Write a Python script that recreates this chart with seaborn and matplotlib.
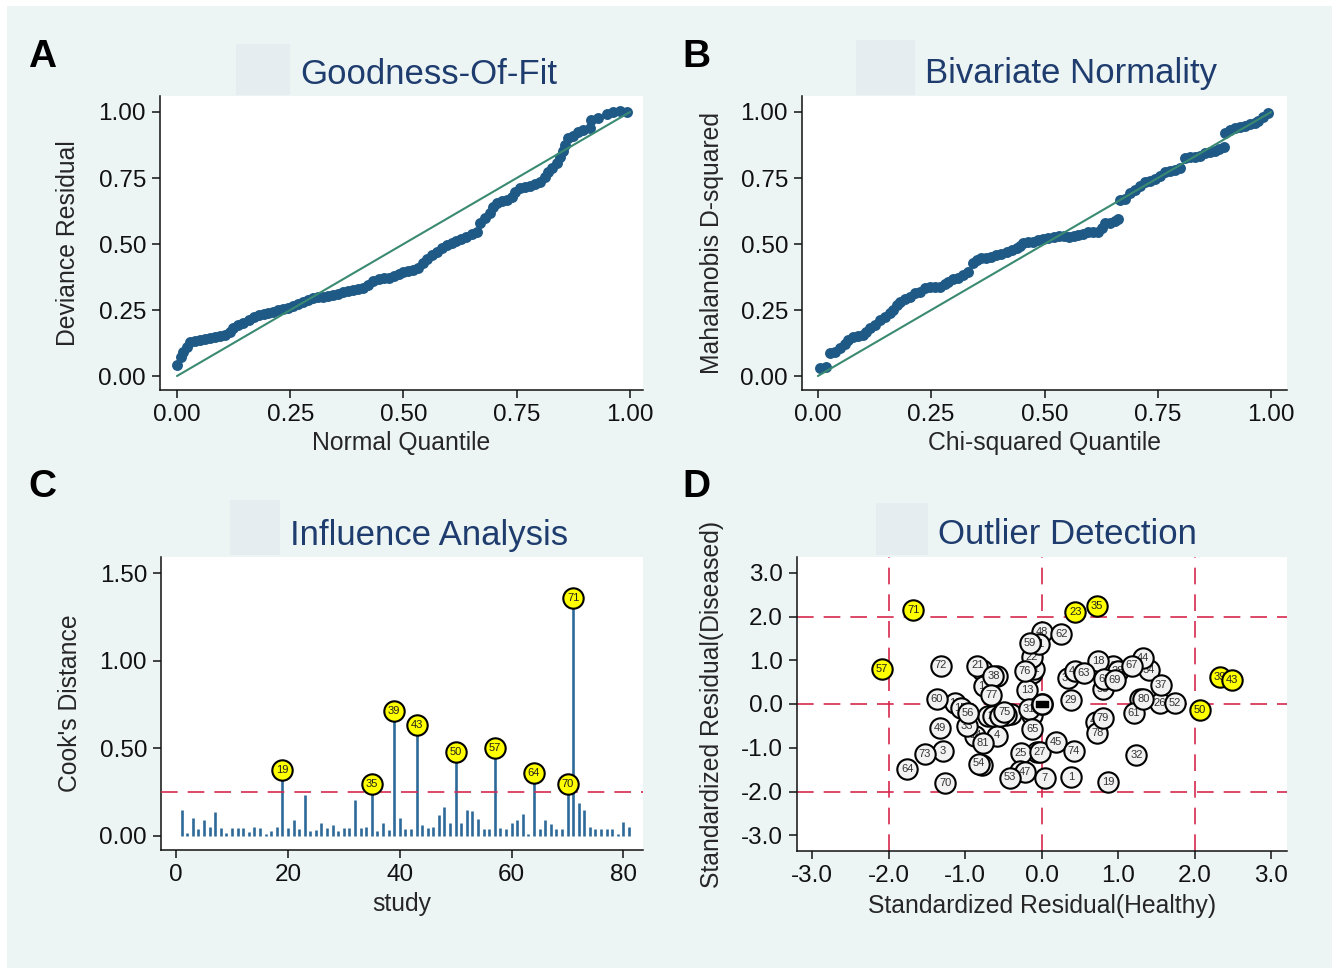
import matplotlib
matplotlib.use("Agg")
import matplotlib.pyplot as plt
import seaborn as sns
from matplotlib.patches import Rectangle
from matplotlib.path import Path

# ---------------- DATA ----------------
# Panel A: Goodness-of-fit (normal quantile vs deviance residual)
gof_quantile = [0.001, 0.008, 0.014, 0.021, 0.029, 0.040, 0.051, 0.062, 0.073, 0.084,
                0.095, 0.106, 0.117, 0.124, 0.135, 0.146, 0.158, 0.169, 0.180, 0.191,
                0.202, 0.213, 0.224, 0.235, 0.246, 0.257, 0.268, 0.279, 0.290, 0.301,
                0.312, 0.323, 0.334, 0.345, 0.356, 0.367, 0.378, 0.389, 0.400, 0.411,
                0.422, 0.433, 0.445, 0.456, 0.467, 0.478, 0.489, 0.500, 0.511, 0.522,
                0.533, 0.544, 0.551, 0.562, 0.573, 0.584, 0.595, 0.606, 0.617, 0.628,
                0.639, 0.651, 0.662, 0.669, 0.680, 0.691, 0.698, 0.706, 0.717, 0.728,
                0.739, 0.746, 0.757, 0.768, 0.779, 0.790, 0.801, 0.812, 0.820, 0.827,
                0.838, 0.846, 0.853, 0.857, 0.864, 0.875, 0.886, 0.897, 0.912, 0.915,
                0.930, 0.949, 0.963, 0.978, 0.993]
gof_residual = [0.042, 0.073, 0.090, 0.111, 0.128, 0.133, 0.136, 0.140, 0.144, 0.147,
                0.150, 0.155, 0.165, 0.183, 0.193, 0.202, 0.211, 0.224, 0.231, 0.235,
                0.237, 0.244, 0.249, 0.253, 0.259, 0.264, 0.272, 0.279, 0.287, 0.294,
                0.298, 0.301, 0.303, 0.307, 0.311, 0.317, 0.322, 0.326, 0.330, 0.335,
                0.345, 0.361, 0.367, 0.370, 0.373, 0.378, 0.385, 0.393, 0.399, 0.403,
                0.410, 0.427, 0.443, 0.458, 0.471, 0.486, 0.496, 0.503, 0.511, 0.519,
                0.528, 0.537, 0.547, 0.578, 0.597, 0.616, 0.641, 0.654, 0.663, 0.665,
                0.679, 0.698, 0.711, 0.716, 0.720, 0.726, 0.736, 0.755, 0.772, 0.787,
                0.806, 0.831, 0.852, 0.875, 0.903, 0.910, 0.923, 0.932, 0.938, 0.970,
                0.979, 0.991, 0.999, 1.004, 1.001]

# Panel B: Bivariate normality (chi-squared quantile vs Mahalanobis D-squared)
bvn_quantile = [0.004, 0.019, 0.027, 0.038, 0.049, 0.060, 0.067, 0.078, 0.089, 0.100,
                0.107, 0.115, 0.126, 0.137, 0.148, 0.159, 0.166, 0.174, 0.181, 0.192,
                0.203, 0.214, 0.225, 0.236, 0.247, 0.258, 0.269, 0.280, 0.288, 0.299,
                0.310, 0.321, 0.332, 0.343, 0.350, 0.361, 0.372, 0.383, 0.394, 0.405,
                0.417, 0.428, 0.439, 0.446, 0.453, 0.464, 0.475, 0.486, 0.497, 0.508,
                0.520, 0.531, 0.542, 0.553, 0.564, 0.575, 0.586, 0.597, 0.608, 0.619,
                0.626, 0.634, 0.645, 0.656, 0.663, 0.667, 0.678, 0.689, 0.700, 0.711,
                0.722, 0.733, 0.744, 0.755, 0.766, 0.777, 0.788, 0.799, 0.810, 0.821,
                0.832, 0.843, 0.854, 0.865, 0.876, 0.884, 0.895, 0.899, 0.910, 0.921,
                0.932, 0.943, 0.954, 0.965, 0.972, 0.983, 0.994]
bvn_dsq = [0.029, 0.035, 0.088, 0.092, 0.105, 0.120, 0.136, 0.149, 0.153, 0.155,
           0.165, 0.181, 0.193, 0.212, 0.225, 0.237, 0.250, 0.269, 0.282, 0.292,
           0.301, 0.313, 0.319, 0.332, 0.336, 0.338, 0.338, 0.347, 0.357, 0.366,
           0.373, 0.383, 0.395, 0.427, 0.439, 0.446, 0.448, 0.452, 0.458, 0.462,
           0.471, 0.477, 0.484, 0.494, 0.505, 0.509, 0.509, 0.514, 0.519, 0.524,
           0.528, 0.530, 0.530, 0.528, 0.530, 0.534, 0.537, 0.547, 0.547, 0.547,
           0.562, 0.578, 0.578, 0.587, 0.593, 0.667, 0.671, 0.692, 0.705, 0.721,
           0.734, 0.739, 0.745, 0.758, 0.772, 0.777, 0.780, 0.789, 0.825, 0.828,
           0.828, 0.835, 0.846, 0.850, 0.852, 0.860, 0.869, 0.919, 0.932, 0.938,
           0.942, 0.947, 0.953, 0.957, 0.967, 0.982, 0.995]

ref_line = [0.0, 1.0]

# Panel C: Influence analysis (Cook's distance by study)
study = list(range(1, 82))
cooks = [0.149, 0.019, 0.105, 0.038, 0.090, 0.053, 0.137, 0.048, 0.019, 0.048,
         0.048, 0.048, 0.025, 0.053, 0.048, 0.013, 0.029, 0.053, 0.377, 0.044,
         0.090, 0.038, 0.232, 0.029, 0.034, 0.076, 0.048, 0.063, 0.029, 0.044,
         0.044, 0.206, 0.048, 0.053, 0.299, 0.029, 0.076, 0.032, 0.714, 0.101,
         0.038, 0.042, 0.632, 0.061, 0.048, 0.053, 0.118, 0.166, 0.076, 0.480,
         0.076, 0.149, 0.143, 0.095, 0.038, 0.038, 0.501, 0.048, 0.038, 0.076,
         0.090, 0.128, 0.013, 0.358, 0.038, 0.090, 0.067, 0.042, 0.038, 0.299,
         1.362, 0.187, 0.147, 0.051, 0.038, 0.038, 0.038, 0.038, 0.010, 0.080,
         0.051]
cook_cutoff = 0.25
influential = [19, 35, 39, 43, 50, 57, 64, 70, 71]

# Panel D: Outlier detection (standardized residuals)
out_label = list(range(1, 82))
resid_healthy = [0.39, -0.12, -1.29, -0.58, -0.70, 0.93, 0.04, -0.78, -0.13, -1.13,
                 -0.10, -0.75, -0.19, -0.87, -1.06, -0.59, -0.06, 0.74, 0.87, -0.63,
                 -0.84, -0.13, 0.44, -0.40, -0.27, 1.55, -0.02, 1.00, 0.38, 1.29,
                 -0.17, 1.24, -0.98, 1.40, 0.72, 0.34, 1.56, -0.63, 2.33, -0.78,
                 0.44, 0.71, 2.49, 1.33, 0.19, -0.28, -0.22, 0.00, -1.33, 2.07,
                 -0.04, 1.74, -0.41, -0.82, 0.80, -0.96, -2.09, -0.47, -0.15, -1.37,
                 1.21, 0.26, 0.55, -1.76, -0.12, -0.55, 1.18, 0.82, 0.96, -1.26,
                 -1.68, -1.32, -1.53, 0.42, -0.49, -0.22, -0.66, 0.73, 0.80, 1.33,
                 -0.77]
resid_diseased = [-1.66, 0.72, -1.07, -0.72, -0.27, 0.87, -1.69, 0.77, -0.25, 0.02,
                  0.80, 0.42, 0.32, -0.72, -0.09, 0.63, -1.09, 0.98, -1.78, -0.28,
                  0.88, 1.08, 2.11, -0.22, -1.11, 0.02, -1.09, 0.76, 0.09, 0.11,
                  -0.11, -1.17, -0.50, 0.78, 2.24, 0.60, 0.43, 0.64, 0.61, -1.39,
                  0.76, -0.40, 0.55, 1.05, -0.86, -1.53, -1.55, 1.65, -0.54, -0.14,
                  1.37, 0.03, -1.68, -1.36, 0.34, -0.20, 0.80, -0.26, 1.40, 0.11,
                  -0.21, 1.59, 0.72, -1.49, -0.58, -0.27, 0.88, 0.57, 0.55, -1.80,
                  2.15, 0.88, -1.14, -1.07, -0.18, 0.75, 0.21, -0.66, -0.32, 0.11,
                  -0.90]
outliers = [23, 35, 39, 43, 50, 57, 71]
summary_point = [0.0, 0.0]
cut_lines = [-2.0, 0.0, 2.0]

# ---------------- STYLE ----------------
sns.set_style("white")
plt.rcParams['font.family'] = ['Liberation Sans', 'DejaVu Sans']
plt.rcParams['axes.unicode_minus'] = False

W, H = 1333, 968
fig = plt.figure(figsize=(W / 100, H / 100), dpi=100)
fig.patch.set_facecolor('white')
BG = '#edf5f4'
fig.patches.append(Rectangle((7 / W, 0), (W - 8) / W, (H - 6) / H, transform=fig.transFigure,
                             facecolor=BG, edgecolor='none', zorder=-10))

DOT = '#1f5a86'
LINE = '#3a8a72'
STEM = '#2d6a9a'
RED = '#d8294f'
NAVY = '#1e3c6e'
TICK_FS = 17.5
LAB_FS = 17.8
MARK_S = 215
MARK_FS = 8


def px_axes(x0, y0, x1, y1):
    return fig.add_axes([x0 / W, 1 - y1 / H, (x1 - x0) / W, (y1 - y0) / H])


def style(ax):
    ax.set_facecolor('white')
    for s in ['top', 'right']:
        ax.spines[s].set_visible(False)
    for s in ['left', 'bottom']:
        ax.spines[s].set_color('#111111')
        ax.spines[s].set_linewidth(1.1)
    ax.tick_params(direction='out', length=6, width=1.1, color='#111111',
                   labelsize=TICK_FS, labelcolor='#111111', pad=4,
                   left=True, bottom=True)
    ax.grid(False)


def title(rx0, ry0, rx1, ry1, tx, ty, s):
    fig.patches.append(Rectangle((rx0 / W, 1 - ry1 / H), (rx1 - rx0) / W, (ry1 - ry0) / H,
                                 transform=fig.transFigure, facecolor='#e5edf0',
                                 edgecolor='none', zorder=-5))
    fig.text(tx / W, 1 - ty / H, s, ha='left', va='center', fontsize=25, color=NAVY)


def letter(x, y, s):
    fig.text(x / W, 1 - y / H, s, ha='left', va='baseline', fontsize=28,
             fontweight='bold', color='black')


q_ticks = [0, 0.25, 0.5, 0.75, 1.0]
q_labels = ['0.00', '0.25', '0.50', '0.75', '1.00']

# ---------------- PANEL A ----------------
axA = px_axes(160, 96, 643, 390)
style(axA)
sns.scatterplot(x=gof_quantile, y=gof_residual, ax=axA, color=DOT, s=62,
                linewidth=0, legend=False, zorder=2)
sns.lineplot(x=ref_line, y=ref_line, ax=axA, color=LINE, linewidth=1.5, zorder=3)
axA.set_xlim(-0.0375, 1.0287)
axA.set_ylim(-0.053, 1.0606)
axA.set_xticks(q_ticks, q_labels)
axA.set_yticks(q_ticks, q_labels)
axA.set_xlabel('Normal Quantile', fontsize=LAB_FS)
axA.set_ylabel('Deviance Residual', fontsize=LAB_FS)
axA.yaxis.set_label_coords(-0.166, 0.5)
axA.xaxis.set_label_coords(0.5, -0.14)
title(236, 44, 290, 95, 300, 74, 'Goodness-Of-Fit')
letter(28, 67, 'A')

# ---------------- PANEL B ----------------
axB = px_axes(802, 96, 1287, 390)
style(axB)
sns.scatterplot(x=bvn_quantile, y=bvn_dsq, ax=axB, color=DOT, s=62,
                linewidth=0, legend=False, zorder=2)
sns.lineplot(x=ref_line, y=ref_line, ax=axB, color=LINE, linewidth=1.5, zorder=3)
axB.set_xlim(-0.035, 1.035)
axB.set_ylim(-0.053, 1.0606)
axB.set_xticks(q_ticks, q_labels)
axB.set_yticks(q_ticks, q_labels)
axB.set_xlabel('Chi-squared Quantile', fontsize=LAB_FS)
axB.set_ylabel('Mahalanobis D-squared', fontsize=LAB_FS)
axB.yaxis.set_label_coords(-0.161, 0.5)
axB.xaxis.set_label_coords(0.5, -0.14)
title(856, 40, 915, 95, 925, 74, 'Bivariate Normality')
letter(682, 67, 'B')

# ---------------- PANEL C ----------------
axC = px_axes(161, 557, 643, 850)
style(axC)
axC.vlines(study, 0, cooks, color=STEM, linewidth=1.9, zorder=2)
axC.axhline(cook_cutoff, color=RED, linewidth=1.2, linestyle=(0, (10, 6)), zorder=3)
inf_x = [s for s in influential]
inf_y = [cooks[s - 1] for s in influential]
sns.scatterplot(x=inf_x, y=inf_y, ax=axC, color='#ffff00', s=MARK_S, edgecolor='black',
                linewidth=1.5, legend=False, zorder=5)
for sx, sy in zip(inf_x, inf_y):
    axC.text(sx, sy, str(sx), ha='center', va='center', fontsize=MARK_FS,
             color='#222222', zorder=6)
axC.set_xlim(-2.7, 83.5)
axC.set_ylim(-0.08, 1.594)
axC.set_xticks([0, 20, 40, 60, 80], ['0', '20', '40', '60', '80'])
axC.set_yticks([0, 0.5, 1.0, 1.5], ['0.00', '0.50', '1.00', '1.50'])
axC.set_xlabel('study', fontsize=LAB_FS)
axC.set_ylabel("Cook's Distance", fontsize=LAB_FS)
axC.yaxis.set_label_coords(-0.164, 0.5)
axC.xaxis.set_label_coords(0.5, -0.145)
title(230, 500, 280, 555, 290, 535, 'Influence Analysis')
letter(28, 497, 'C')

# ---------------- PANEL D ----------------
axD = px_axes(797, 557, 1287, 851)
style(axD)
for c in cut_lines:
    axD.axvline(c, color=RED, linewidth=1.2, linestyle=(0, (10, 6)), zorder=1)
    axD.axhline(c, color=RED, linewidth=1.2, linestyle=(0, (10, 6)), zorder=1)
for i, (lab, hx, dy) in enumerate(zip(out_label, resid_healthy, resid_diseased)):
    z = 3 + i * 0.02
    face = '#ffff00' if lab in outliers else '#f2f2f2'
    sns.scatterplot(x=[hx], y=[dy], ax=axD, color=face, s=MARK_S, edgecolor='black',
                    linewidth=1.5, legend=False, zorder=z)
    axD.text(hx, dy, str(lab), ha='center', va='center', fontsize=MARK_FS,
             color='#222222' if lab in outliers else '#333333', zorder=z + 0.01)
# summary marker (circle with black bar)
sns.scatterplot(x=[summary_point[0]], y=[summary_point[1]], ax=axD, color='#f2f2f2', s=MARK_S,
                edgecolor='black', linewidth=1.8, legend=False, zorder=10)
bar = Path([(-1, -0.5), (1, -0.5), (1, 0.5), (-1, 0.5), (-1, -0.5)],
           [Path.MOVETO, Path.LINETO, Path.LINETO, Path.LINETO, Path.CLOSEPOLY])
axD.scatter([summary_point[0]], [summary_point[1]], marker=bar, s=70, color='black', zorder=11)
d_ticks = [-3, -2, -1, 0, 1, 2, 3]
d_labels = ['-3.0', '-2.0', '-1.0', '0.0', '1.0', '2.0', '3.0']
axD.set_xlim(-3.20, 3.21)
axD.set_ylim(-3.36, 3.36)
axD.set_xticks(d_ticks, d_labels)
axD.set_yticks(d_ticks, d_labels)
axD.set_xlabel('Standardized Residual(Healthy)', fontsize=LAB_FS)
axD.set_ylabel('Standardized Residual(Diseased)', fontsize=LAB_FS)
axD.yaxis.set_label_coords(-0.149, 0.5)
axD.xaxis.set_label_coords(0.5, -0.145)
title(876, 503, 928, 555, 938, 535, 'Outlier Detection')
letter(682, 497, 'D')

fig.savefig('out.png', dpi=100, facecolor=fig.get_facecolor())
